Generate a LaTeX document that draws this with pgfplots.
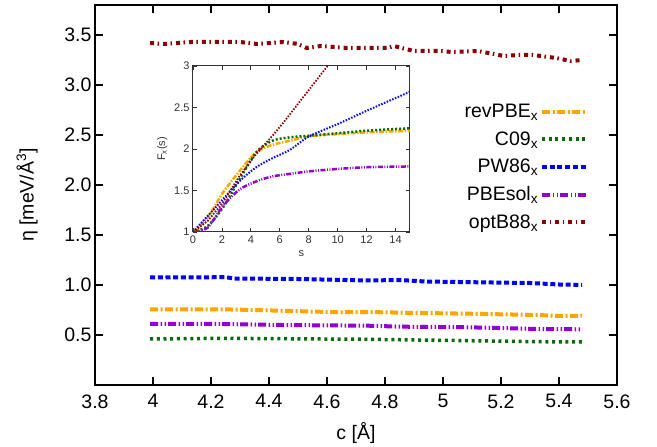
\documentclass[border=0pt]{standalone}
\usepackage{pgfplots}
\pgfplotsset{compat=1.18}
\usepackage{fontspec}
\setmainfont{Liberation Sans}
\definecolor{cOr}{RGB}{255,165,0}
\definecolor{cGr}{RGB}{10,105,10}
\definecolor{cBl}{RGB}{0,0,255}
\definecolor{cPu}{RGB}{148,0,211}
\definecolor{cRe}{RGB}{139,0,0}
\newcommand{\bigf}{\fontsize{19.5}{23}\selectfont}
\newcommand{\smallf}{\fontsize{11}{13}\selectfont}
\begin{document}
\begin{tikzpicture}
\path[use as bounding box] (-95pt,-62pt) rectangle (562pt,385pt);
\begin{axis}[
  at={(0pt,0pt)}, anchor=south west,
  scale only axis, width=522pt, height=380pt,
  xmin=3.8, xmax=5.6, ymin=0, ymax=3.8,
  xtick={3.8,4,4.2,4.4,4.6,4.8,5,5.2,5.4,5.6},
  ytick={0.5,1,1.5,2,2.5,3,3.5},
  yticklabel style={/pgf/number format/fixed,/pgf/number format/fixed zerofill,/pgf/number format/precision=1},
  xticklabel style={yshift=-6pt},
  /pgf/number format/assume math mode=true,
  tick label style={font=\bigf},
  tick align=inside, major tick length=8pt,
  tick style={line width=1.8pt, black},
  axis line style={line width=1.8pt},
  xlabel={c [Å]}, ylabel={η [meV/Å\textsuperscript{3}]},
  label style={font=\bigf},
  xlabel style={at={(axis description cs:0.5,-0.126)}, anchor=center},
  ylabel style={at={(axis description cs:-0.13,0.5)}, anchor=center},
  legend style={at={(rel axis cs:0.945,0.745)}, anchor=north east, draw=none, fill=none,
     font=\bigf, row sep=8.5pt, inner sep=0pt},
  legend cell align=right,
  legend plot pos=right,
  legend image code/.code={\draw[#1] (0pt,0pt) -- (44pt,0pt);},
]
\addplot[cOr, line width=4pt, dash pattern=on 8pt off 2.5pt on 2pt off 2.5pt] coordinates {
(3.99,0.757)(4.24,0.757)(4.44,0.743)(4.645,0.727)(4.74,0.73)(4.86,0.723)(5.09,0.713)(5.33,0.70)(5.40,0.69)(5.48,0.693)};
\addlegendentry{revPBE\textsubscript{x}}
\addplot[cGr, line width=3.5pt, dash pattern=on 3pt off 3.7pt] coordinates {
(3.99,0.46)(4.24,0.467)(4.74,0.457)(5.09,0.443)(5.33,0.433)(5.48,0.43)};
\addlegendentry{C09\textsubscript{x}}
\addplot[cBl, line width=4pt, dash pattern=on 5pt off 2.7pt] coordinates {
(3.99,1.075)(4.25,1.078)(4.28,1.065)(4.50,1.06)(4.74,1.045)(4.85,1.05)(4.94,1.035)(5.17,1.025)(5.30,1.02)(5.40,1.005)(5.48,1.00)};
\addlegendentry{PW86\textsubscript{x}}
\addplot[cPu, line width=4pt, dash pattern=on 8pt off 2.5pt on 1.5pt off 2.5pt on 1.5pt off 2pt] coordinates {
(3.99,0.61)(4.24,0.61)(4.44,0.60)(4.74,0.593)(4.86,0.583)(5.09,0.577)(5.33,0.56)(5.48,0.557)};
\addlegendentry{PBEsol\textsubscript{x}}
\addplot[cRe, line width=4pt, dash pattern=on 4pt off 3.5pt on 1.5pt off 4pt] coordinates {
(3.99,3.42)(4.04,3.41)(4.13,3.43)(4.30,3.43)(4.36,3.41)(4.45,3.43)(4.50,3.41)(4.53,3.37)(4.58,3.39)(4.67,3.37)(4.74,3.37)(4.81,3.37)(4.83,3.39)(4.90,3.34)(4.99,3.34)(5.03,3.33)(5.12,3.34)(5.21,3.29)(5.26,3.30)(5.31,3.30)(5.39,3.27)(5.44,3.24)(5.48,3.25)};
\addlegendentry{optB88\textsubscript{x}}
\end{axis}
\begin{axis}[
  at={(98pt,153pt)}, anchor=south west,
  scale only axis, width=217pt, height=166pt,
  xmin=0, xmax=15, ymin=1, ymax=3,
  xtick={0,2,4,6,8,10,12,14},
  ytick={1,1.5,2,2.5,3},
  /pgf/number format/assume math mode=true,
  tick label style={font=\smallf, black!80},
  tick align=inside, major tick length=4pt,
  tick style={line width=0.8pt, black!80},
  axis line style={line width=1pt, black!80},
  axis background/.style={fill=white},
  xlabel={s}, ylabel={F\textsubscript{x}(s)},
  label style={font=\smallf, black!80},
  clip=true,
]
\addplot[cOr, line width=2.5pt, smooth, dash pattern=on 5pt off 1.5pt on 1.5pt off 1.5pt] coordinates {
(0,1)(1,1.17)(2.05,1.47)(3.2,1.73)(4.37,1.96)(5.5,2.05)(6.7,2.10)(8,2.15)(10,2.18)(12,2.20)(15,2.22)};
\addplot[cGr, line width=2.5pt, smooth, dash pattern=on 2pt off 2pt] coordinates {
(0,1)(1,1.07)(2.05,1.29)(3.2,1.63)(4.37,1.96)(5.5,2.10)(6.7,2.14)(8,2.16)(10,2.19)(12,2.22)(15,2.25)};
\addplot[cBl, line width=2pt, smooth, dash pattern=on 1.5pt off 1.5pt] coordinates {
(0,1)(1,1.19)(2.05,1.39)(3.2,1.61)(4.37,1.78)(5.5,1.89)(6.7,1.99)(8,2.15)(10,2.30)(12,2.46)(15,2.69)};
\addplot[cPu, line width=2.5pt, smooth, dash pattern=on 5pt off 1.5pt on 1pt off 1.5pt on 1pt off 1.5pt] coordinates {
(0,1)(1,1.05)(2.05,1.31)(3.2,1.51)(4.37,1.61)(5.5,1.67)(6.7,1.70)(8,1.73)(10,1.76)(12,1.78)(15,1.79)};
\addplot[cRe, line width=1.8pt, dash pattern=on 1.5pt off 1.5pt] coordinates {
(0,1)(1,1.13)(2.05,1.35)(3.2,1.67)(4.37,1.94)(5.5,2.16)(6.35,2.34)(9.3,3.0)(10,3.16)};
\end{axis}
\end{tikzpicture}
\end{document}
